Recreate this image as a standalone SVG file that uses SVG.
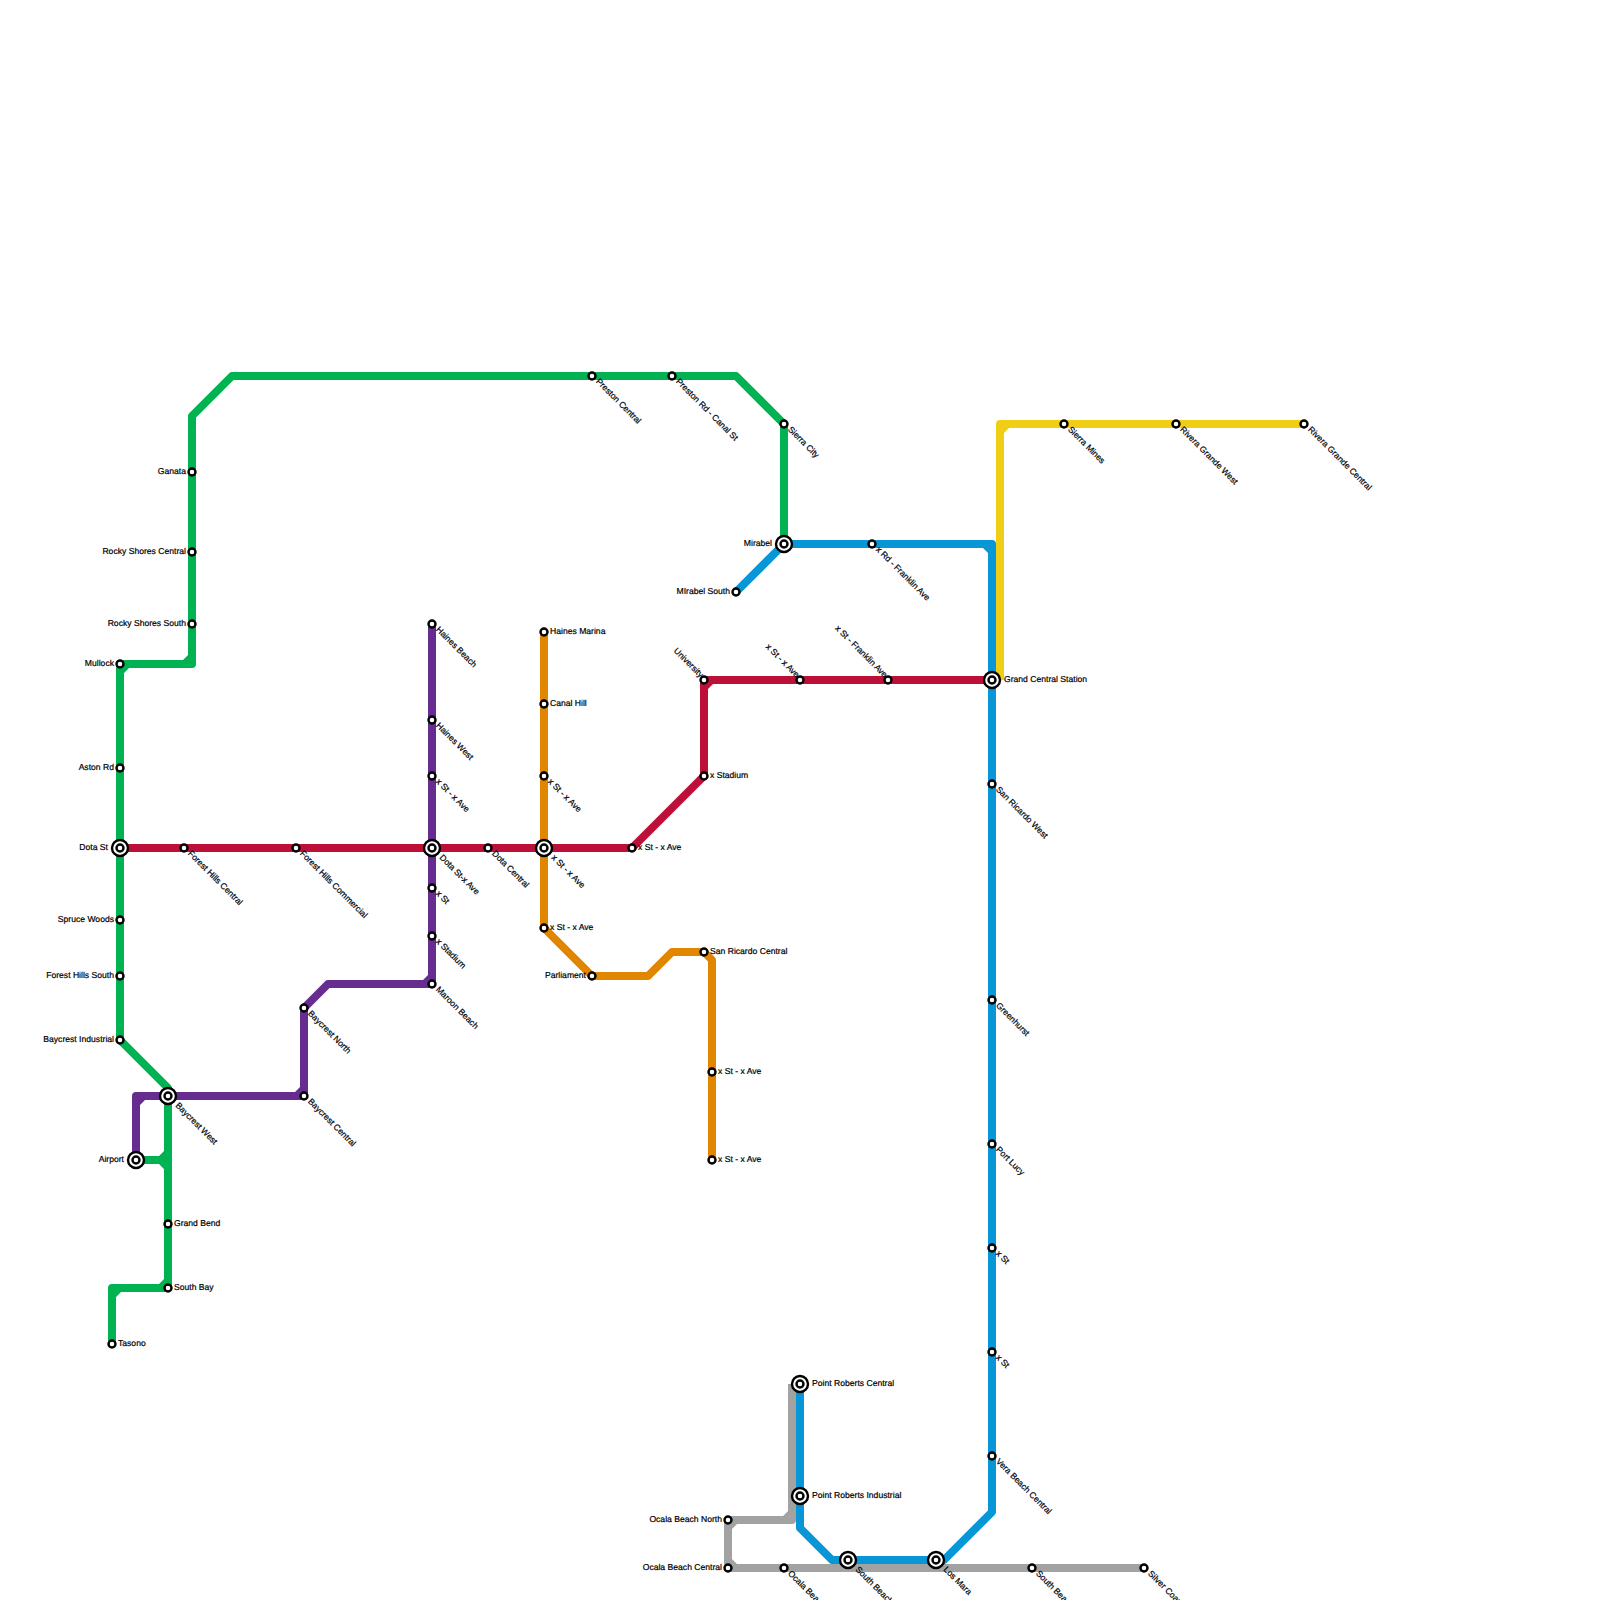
<svg xmlns="http://www.w3.org/2000/svg" width="1600" height="1600" viewBox="0 0 1600 1600">
<style>
.l{fill:none;stroke-width:8;stroke-linejoin:round;stroke-linecap:butt}
.green{stroke:#00b251}.red{stroke:#bd1038}.purple{stroke:#662c90}.orange{stroke:#e08600}.blue{stroke:#0896d7}.yellow{stroke:#f0ce15}.gray{stroke:#a1a2a1}
.fgreen{fill:#00b251}.fred{fill:#bd1038}.fpurple{fill:#662c90}.forange{fill:#e08600}.fblue{fill:#0896d7}.fyellow{fill:#f0ce15}.fgray{fill:#a1a2a1}
.s{fill:#fff;stroke:#000;stroke-width:2.4}
text{font-family:"Liberation Sans",Arial,sans-serif;font-size:8.6px;fill:#000;stroke:#000;stroke-width:.2px;text-rendering:geometricPrecision}
.e{text-anchor:end}
</style>
<g id="connectors">
<path class="l gray" d="M1144 1568H728V1520H792V1384"/>
<path class="fgray" d="M732 1524h5l-5 5zM732 1564h5l-5-5zM788 1516h-5l5-5z"/>
<path class="l yellow" d="M1000 680V424H1304"/>
<path class="fyellow" d="M1004 428h5l-5 5zM1004 676h0v-5l-5 10z"/>
<path class="l green" d="M112 1344V1288H168V1088L120 1040V664H192V416L232 376H736L784 424V544M136 1160H168"/>
<path class="fgreen" d="M116 1292h5l-5 5zM164 1284h-5l5-5zM164 1156h-5l5-5zM164 1164h-5l5 5zM124 668h5l-5 5zM188 660h-5l5-5z"/>
<path class="l blue" d="M736 592L784 544H992V1512L944 1560H832L800 1528V1384"/>
<path class="fblue" d="M988 548h-5l5 5z"/>
<path class="l purple" d="M432 624V984H328L304 1008V1096H136V1160"/>
<path class="fpurple" d="M428 980h-5l5-5zM300 1092h-5l5-5zM140 1100h5l-5 5z"/>
<path class="l orange" d="M544 632V928L592 976H648L672 952H704L712 960V1160"/>
<path class="l red" d="M120 848H632L704 776V680H992"/>
<path class="fred" d="M708 684h5l-5 5z"/>
</g>
<g id="n-tasono"><circle class="s" cx="112" cy="1344" r="3.5"/><text x="118" y="1346">Tasono</text></g>
<g id="n-south-bay"><circle class="s" cx="168" cy="1288" r="3.5"/><text x="174" y="1290">South Bay</text></g>
<g id="n-grand-bend"><circle class="s" cx="168" cy="1224" r="3.5"/><text x="174" y="1226">Grand Bend</text></g>
<g id="n-airport"><circle class="s" cx="136" cy="1160" r="8"/><circle class="s" cx="136" cy="1160" r="3.5"/><text class="e" x="124" y="1162">Airport</text></g>
<g id="n-baycrest-west"><circle class="s" cx="168" cy="1096" r="8"/><circle class="s" cx="168" cy="1096" r="3.500"/><text transform="translate(175 1106) rotate(45)">Baycrest West</text></g>
<g id="n-baycrest-central"><circle class="s" cx="304" cy="1096" r="3.5"/><text transform="translate(307.500 1102) rotate(45)">Baycrest Central</text></g>
<g id="n-baycrest-north"><circle class="s" cx="304" cy="1008" r="3.5"/><text transform="translate(307.500 1014) rotate(45)">Baycrest North</text></g>
<g id="n-baycrest-industrial"><circle class="s" cx="120" cy="1040" r="3.5"/><text class="e" x="114" y="1042">Baycrest Industrial</text></g>
<g id="n-forest-hills-south"><circle class="s" cx="120" cy="976" r="3.5"/><text class="e" x="114" y="978">Forest Hills South</text></g>
<g id="n-spruce-woods"><circle class="s" cx="120" cy="920" r="3.5"/><text class="e" x="114" y="922">Spruce Woods</text></g>
<g id="n-dota-st"><circle class="s" cx="120" cy="848" r="8"/><circle class="s" cx="120" cy="848" r="3.5"/><text class="e" x="108" y="850">Dota St</text></g>
<g id="n-aston-rd"><circle class="s" cx="120" cy="768" r="3.5"/><text class="e" x="114" y="770">Aston Rd</text></g>
<g id="n-mullock"><circle class="s" cx="120" cy="664" r="3.5"/><text class="e" x="114" y="666">Mullock</text></g>
<g id="n-rocky-shores-south"><circle class="s" cx="192" cy="624" r="3.5"/><text class="e" x="186" y="626">Rocky Shores South</text></g>
<g id="n-rocky-shores-central"><circle class="s" cx="192" cy="552" r="3.5"/><text class="e" x="186" y="554">Rocky Shores Central</text></g>
<g id="n-ganata"><circle class="s" cx="192" cy="472" r="3.5"/><text class="e" x="186" y="474">Ganata</text></g>
<g id="n-preston-central"><circle class="s" cx="592" cy="376" r="3.5"/><text transform="translate(595.500 382) rotate(45)">Preston Central</text></g>
<g id="n-preston-rd"><circle class="s" cx="672" cy="376" r="3.5"/><text transform="translate(675.500 382) rotate(45)">Preston Rd - Canal St</text></g>
<g id="n-sierra-city"><circle class="s" cx="784" cy="424" r="3.5"/><text transform="translate(787.500 430) rotate(45)">Sierra City</text></g>
<g id="n-mirabel"><circle class="s" cx="784" cy="544" r="8"/><circle class="s" cx="784" cy="544" r="3.5"/><text class="e" x="772" y="546">Mirabel</text></g>
<g id="n-mirabel-south"><circle class="s" cx="736" cy="592" r="3.5"/><text class="e" x="730" y="594">MIrabel South</text></g>
<g id="n-x-rd-franklin"><circle class="s" cx="872" cy="544" r="3.5"/><text transform="translate(875.500 550) rotate(45)">x Rd - Franklin Ave</text></g>
<g id="n-sierra-mines"><circle class="s" cx="1064" cy="424" r="3.5"/><text transform="translate(1067.500 430) rotate(45)">Sierra Mines</text></g>
<g id="n-rivera-west"><circle class="s" cx="1176" cy="424" r="3.5"/><text transform="translate(1179.500 430) rotate(45)">Rivera Grande West</text></g>
<g id="n-rivera-central"><circle class="s" cx="1304" cy="424" r="3.5"/><text transform="translate(1307.500 430) rotate(45)">Rivera Grande Central</text></g>
<g id="n-grand-central"><circle class="s" cx="992" cy="680" r="8"/><circle class="s" cx="992" cy="680" r="3.5"/><text x="1004" y="682">Grand Central Station</text></g>
<g id="n-st-franklin"><circle class="s" cx="888" cy="680" r="3.5"/><text class="e" transform="translate(884 678) rotate(45)">x St - Franklin Ave</text></g>
<g id="n-st-ave-800"><circle class="s" cx="800" cy="680" r="3.5"/><text class="e" transform="translate(796 678) rotate(45)">x St - x Ave</text></g>
<g id="n-university"><circle class="s" cx="704" cy="680" r="3.5"/><text class="e" transform="translate(700 678) rotate(45)">University</text></g>
<g id="n-x-stadium-704"><circle class="s" cx="704" cy="776" r="3.5"/><text x="710" y="778">x Stadium</text></g>
<g id="n-st-ave-632"><circle class="s" cx="632" cy="848" r="3.5"/><text x="638" y="850">x St - x Ave</text></g>
<g id="n-st-ave-544"><circle class="s" cx="544" cy="848" r="8"/><circle class="s" cx="544" cy="848" r="3.5"/><text transform="translate(551 858) rotate(45)">x St - x Ave</text></g>
<g id="n-dota-central"><circle class="s" cx="488" cy="848" r="3.5"/><text transform="translate(491.500 854) rotate(45)">Dota Central</text></g>
<g id="n-dota-st-ave"><circle class="s" cx="432" cy="848" r="8"/><circle class="s" cx="432" cy="848" r="3.5"/><text transform="translate(439 858) rotate(45)">Dota St-x Ave</text></g>
<g id="n-fh-commercial"><circle class="s" cx="296" cy="848" r="3.5"/><text transform="translate(299.500 854) rotate(45)">Forest Hills Commercial</text></g>
<g id="n-fh-central"><circle class="s" cx="184" cy="848" r="3.5"/><text transform="translate(187.500 854) rotate(45)">Forest Hills Central</text></g>
<g id="n-haines-beach"><circle class="s" cx="432" cy="624" r="3.5"/><text transform="translate(435.500 630) rotate(45)">Haines Beach</text></g>
<g id="n-haines-west"><circle class="s" cx="432" cy="720" r="3.5"/><text transform="translate(435.500 726) rotate(45)">Haines West</text></g>
<g id="n-st-ave-432"><circle class="s" cx="432" cy="776" r="3.5"/><text transform="translate(435.500 782) rotate(45)">x St - x Ave</text></g>
<g id="n-x-st-888"><circle class="s" cx="432" cy="888" r="3.5"/><text transform="translate(435.500 894) rotate(45)">x St</text></g>
<g id="n-x-stadium-432"><circle class="s" cx="432" cy="936" r="3.5"/><text transform="translate(435.500 942) rotate(45)">x Stadium</text></g>
<g id="n-maroon-beach"><circle class="s" cx="432" cy="984" r="3.5"/><text transform="translate(435.500 990) rotate(45)">Maroon Beach</text></g>
<g id="n-haines-marina"><circle class="s" cx="544" cy="632" r="3.5"/><text x="550" y="634">Haines Marina</text></g>
<g id="n-canal-hill"><circle class="s" cx="544" cy="704" r="3.5"/><text x="550" y="706">Canal Hill</text></g>
<g id="n-st-ave-776"><circle class="s" cx="544" cy="776" r="3.5"/><text transform="translate(547.500 782) rotate(45)">x St - x Ave</text></g>
<g id="n-st-ave-928"><circle class="s" cx="544" cy="928" r="3.5"/><text x="550" y="930">x St - x Ave</text></g>
<g id="n-parliament"><circle class="s" cx="592" cy="976" r="3.5"/><text class="e" x="586" y="978">Parliament</text></g>
<g id="n-san-ricardo-central"><circle class="s" cx="704" cy="952" r="3.5"/><text x="710" y="954">San Ricardo Central</text></g>
<g id="n-st-ave-1072"><circle class="s" cx="712" cy="1072" r="3.5"/><text x="718" y="1074">x St - x Ave</text></g>
<g id="n-st-ave-1160"><circle class="s" cx="712" cy="1160" r="3.5"/><text x="718" y="1162">x St - x Ave</text></g>
<g id="n-san-ricardo-west"><circle class="s" cx="992" cy="784" r="3.5"/><text transform="translate(995.500 790) rotate(45)">San Ricardo West</text></g>
<g id="n-greenhurst"><circle class="s" cx="992" cy="1000" r="3.5"/><text transform="translate(995.500 1006) rotate(45)">Greenhurst</text></g>
<g id="n-port-lucy"><circle class="s" cx="992" cy="1144" r="3.5"/><text transform="translate(995.500 1150) rotate(45)">Port Lucy</text></g>
<g id="n-x-st-1248"><circle class="s" cx="992" cy="1248" r="3.5"/><text transform="translate(995.500 1254) rotate(45)">x St</text></g>
<g id="n-x-st-1352"><circle class="s" cx="992" cy="1352" r="3.5"/><text transform="translate(995.500 1358) rotate(45)">x St</text></g>
<g id="n-vera-beach"><circle class="s" cx="992" cy="1456" r="3.5"/><text transform="translate(995.500 1462) rotate(45)">Vera Beach Central</text></g>
<g id="n-pr-central"><circle class="s" cx="800" cy="1384" r="8"/><circle class="s" cx="800" cy="1384" r="3.5"/><text x="812" y="1386">Point Roberts Central</text></g>
<g id="n-pr-industrial"><circle class="s" cx="800" cy="1496" r="8"/><circle class="s" cx="800" cy="1496" r="3.5"/><text x="812" y="1498">Point Roberts Industrial</text></g>
<g id="n-ocala-north"><circle class="s" cx="728" cy="1520" r="3.5"/><text class="e" x="722" y="1522">Ocala Beach North</text></g>
<g id="n-ocala-central"><circle class="s" cx="728" cy="1568" r="3.5"/><text class="e" x="722" y="1570">Ocala Beach Central</text></g>
<g id="n-ocala-beach"><circle class="s" cx="784" cy="1568" r="3.5"/><text transform="translate(787.500 1574) rotate(45)">Ocala Beach South</text></g>
<g id="n-south-beach"><circle class="s" cx="848" cy="1560" r="8"/><circle class="s" cx="848" cy="1560" r="3.5"/><text transform="translate(855 1570) rotate(45)">South Beach Central</text></g>
<g id="n-los-mara"><circle class="s" cx="936" cy="1560" r="8"/><circle class="s" cx="936" cy="1560" r="3.5"/><text transform="translate(943 1570) rotate(45)">Los Mara</text></g>
<g id="n-south-beach-2"><circle class="s" cx="1032" cy="1568" r="3.5"/><text transform="translate(1035.500 1574) rotate(45)">South Beach</text></g>
<g id="n-silver-coast"><circle class="s" cx="1144" cy="1568" r="3.5"/><text transform="translate(1147.500 1574) rotate(45)">Silver Coast</text></g>
</svg>
